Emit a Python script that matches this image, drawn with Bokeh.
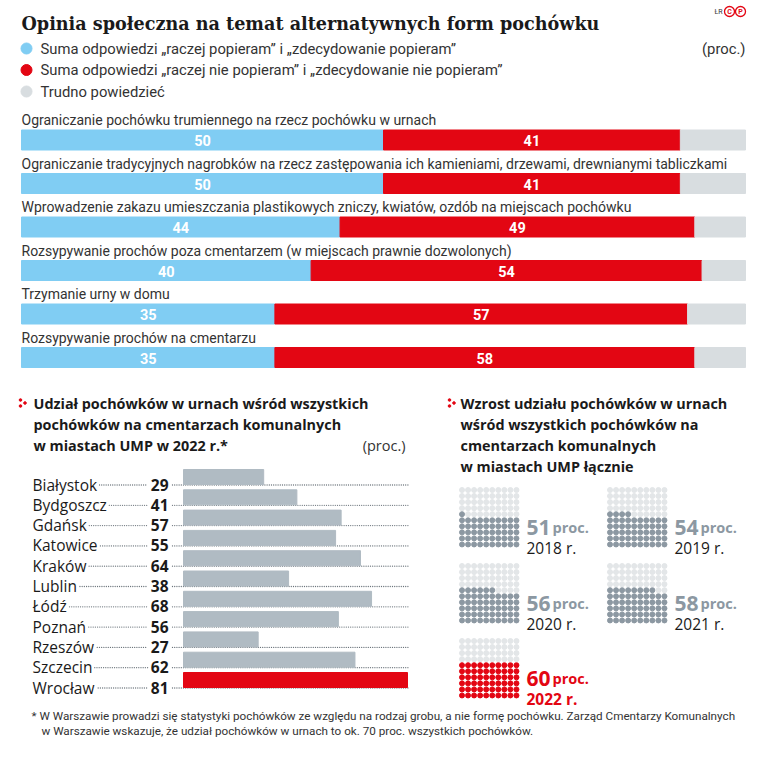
from bokeh.plotting import figure
from bokeh.models import Range1d
from bokeh.core.properties import value
from bokeh.embed import file_html
from bokeh.resources import INLINE

# ---------------- data ----------------
title = "Opinia społeczna na temat alternatywnych form pochówku"
legend_labels = [
    "Suma odpowiedzi „raczej popieram” i „zdecydowanie popieram”",
    "Suma odpowiedzi „raczej nie popieram” i „zdecydowanie nie popieram”",
    "Trudno powiedzieć",
]
questions = [
    "Ograniczanie pochówku trumiennego na rzecz pochówku w urnach",
    "Ograniczanie tradycyjnych nagrobków na rzecz zastępowania ich kamieniami, drzewami, drewnianymi tabliczkami",
    "Wprowadzenie zakazu umieszczania plastikowych zniczy, kwiatów, ozdób na miejscach pochówku",
    "Rozsypywanie prochów poza cmentarzem (w miejscach prawnie dozwolonych)",
    "Trzymanie urny w domu",
    "Rozsypywanie prochów na cmentarzu",
]
support = [50, 50, 44, 40, 35, 35]
oppose = [41, 41, 49, 54, 57, 58]
unsure = [9, 9, 7, 6, 8, 7]

left_title = [
    "Udział pochówków w urnach wśród wszystkich",
    "pochówków na cmentarzach komunalnych",
    "w miastach UMP w 2022 r.*",
]
cities = ["Białystok", "Bydgoszcz", "Gdańsk", "Katowice", "Kraków", "Lublin",
          "Łódź", "Poznań", "Rzeszów", "Szczecin", "Wrocław"]
city_share = [29, 41, 57, 55, 64, 38, 68, 56, 27, 62, 81]

right_title = [
    "Wzrost udziału pochówków w urnach",
    "wśród wszystkich pochówków na",
    "cmentarzach komunalnych",
    "w miastach UMP łącznie",
]
years = ["2018 r.", "2019 r.", "2020 r.", "2021 r.", "2022 r."]
year_share = [51, 54, 56, 58, 60]

footnote = [
    "* W Warszawie prowadzi się statystyki pochówków ze względu na rodzaj grobu, a nie formę pochówku. Zarząd Cmentarzy Komunalnych",
    "w Warszawie wskazuje, że udział pochówków w urnach to ok. 70 proc. wszystkich pochówków.",
]

# ---------------- style ----------------
BLUE = "#80cdf3"
RED = "#e30613"
LIGHT = "#d8dde0"
BARGREY = "#b0bbc3"
DOTGREY = "#8c98a2"
DOTLIGHT = "#e3e6e8"
DARK = "#1a1a1a"
TXT = "#333333"
SANS = value("Roboto")
SANS2 = value("Open Sans")
SERIF = value("DejaVu Serif")

# approximate Open Sans Regular advance widths (units per 2048 em), for dotted leaders
OS_W = {"a": 1139, "b": 1255, "c": 975, "d": 1255, "e": 1149, "g": 1122, "i": 518,
        "k": 1014, "l": 518, "n": 1257, "o": 1237, "r": 836, "s": 977, "t": 705,
        "u": 1257, "w": 1665, "y": 1026, "z": 930, "B": 1300, "G": 1466, "K": 1192,
        "L": 1069, "P": 1221, "R": 1274, "S": 1098, "W": 1886, "ł": 545, "ń": 1257,
        "ó": 1237, "ź": 930, "Ł": 1075}


def text_width(s, size):
    return sum(OS_W.get(ch, 1100) for ch in s) / 2048.0 * size


W, H = 755, 744
p = figure(width=W, height=H, x_range=Range1d(0, W), y_range=Range1d(H, 0),
           output_backend="svg", toolbar_location=None, min_border=0,
           x_axis_location=None, y_axis_location=None)
p.grid.visible = False
p.outline_line_color = None
p.background_fill_color = "white"

# scales for the two bar charts
BX0, BX1 = 21, 745
kb = (BX1 - BX0) / 100.0
CX0 = 183
kc = (407 - CX0) / 81.0
p.extra_x_ranges = {
    "pct": Range1d(-BX0 / kb, (W - BX0) / kb),
    "city": Range1d(-CX0 / kc, (W - CX0) / kc),
}

# ---------------- header ----------------
p.text(x=[21], y=[23], text=[title], text_font=SERIF, text_font_style="bold",
       text_font_size="17.6px", text_color=DARK, text_baseline="alphabetic")
p.text(x=[722], y=[11], text=["ŁR"], text_font=SANS, text_font_size="7px",
       text_color=TXT, text_baseline="middle", text_align="right")
p.scatter(x=[729, 740], y=[11, 11], size=10, marker="circle", fill_color=None,
          line_color=RED, line_width=1.3)
p.text(x=[729, 740], y=[11.5, 11.5], text=["C", "P"], text_font=SANS, text_font_style="bold",
       text_font_size="7px", text_color=RED, text_baseline="middle", text_align="center")

leg_y = [48, 69.5, 91]
p.scatter(x=[26] * 3, y=leg_y, size=11, marker="circle", color=[BLUE, RED, LIGHT])
p.text(x=[40] * 3, y=leg_y, text=legend_labels, text_font=SANS, text_font_size="14.8px",
       text_color=TXT, text_baseline="middle")
p.text(x=[745], y=[48], text=["(proc.)"], text_font=SANS, text_font_size="14.8px",
       text_color=TXT, text_baseline="middle", text_align="right")

# ---------------- stacked bars ----------------
n = len(questions)
yc = [139.5 + i * 43.5 for i in range(n)]
s_end = [s + o for s, o in zip(support, oppose)]
u_end = [e + u for e, u in zip(s_end, unsure)]
p.hbar(y=yc, left=[0] * n, right=support, height=20, color=BLUE, x_range_name="pct")
p.hbar(y=yc, left=support, right=s_end, height=20, color=RED, x_range_name="pct")
p.hbar(y=yc, left=s_end, right=u_end, height=20, color=LIGHT, x_range_name="pct")
p.text(x=[s / 2 for s in support], y=[y + 0.5 for y in yc], text=[str(v) for v in support],
       x_range_name="pct", text_font=SANS, text_font_style="bold", text_font_size="14.5px",
       text_color="white", text_align="center", text_baseline="middle")
p.text(x=[s + o / 2 for s, o in zip(support, oppose)], y=[y + 0.5 for y in yc],
       text=[str(v) for v in oppose], x_range_name="pct", text_font=SANS,
       text_font_style="bold", text_font_size="14.5px", text_color="white",
       text_align="center", text_baseline="middle")
p.text(x=[21] * n, y=[y - 20 for y in yc], text=questions, text_font=SANS,
       text_font_size="14px", text_color=TXT, text_baseline="middle")

# ---------------- left: cities ----------------
def red_icon(x, y):
    p.scatter(x=[x, x, x + 4.5], y=[y - 3, y + 3, y], size=2.6, marker="circle", color=RED)

red_icon(20, 402.5)
ty = [403, 424, 445]
p.text(x=[33] * 3, y=ty, text=left_title, text_font=SANS2, text_font_style="bold",
       text_font_size="14.4px", text_color=DARK, text_baseline="middle")
p.text(x=[405], y=[445], text=["(proc.)"], text_font=SANS2, text_font_size="14.5px",
       text_color=TXT, text_baseline="middle", text_align="right")

m = len(cities)
NAME_X, NAME_FS = 32, 15.5
VAL_X = 168
base = [484 + i * 20.3 for i in range(m)]
lead_start = [NAME_X + text_width(c, NAME_FS) + 3 for c in cities]
lead_end = [VAL_X - len(str(v)) * 0.572 * NAME_FS - 3 for v in city_share]

# dotted leaders as tiny dots
STEP = 2.2
dx, dy = [], []
for b, a0, a1 in zip(base, lead_start, lead_end):
    for (s0, s1) in ((a0, a1), (VAL_X + 4, 408)):
        x = s0
        while x <= s1:
            dx.append(x)
            dy.append(b + 0.5)
            x += STEP
p.scatter(x=dx, y=dy, size=1.3, marker="circle", color="#6b747b", line_color=None)

p.hbar(y=[b - 7.5 for b in base], left=[0] * m, right=city_share, height=15,
       color=[RED if c == "Wrocław" else BARGREY for c in cities], x_range_name="city")
p.text(x=[NAME_X] * m, y=base, text=cities, text_font=SANS2, text_font_size=f"{NAME_FS}px",
       text_color=DARK, text_baseline="alphabetic")
p.text(x=[VAL_X] * m, y=base, text=[str(v) for v in city_share], text_font=SANS2,
       text_font_style="bold", text_font_size=f"{NAME_FS}px", text_color=DARK,
       text_baseline="alphabetic", text_align="right")

# ---------------- right: dot grids ----------------
red_icon(449, 402.5)
rty = [403, 424, 445, 466]
p.text(x=[460] * 4, y=rty, text=right_title, text_font=SANS2, text_font_style="bold",
       text_font_size="14.4px", text_color=DARK, text_baseline="middle")

origins = [(459, 487), (607, 487), (459, 563), (607, 563), (459, 638)]
pitch = 6.05
xs, ys, cs = [], [], []
for k, ((gx, gy), v) in enumerate(zip(origins, year_share)):
    last = k == len(year_share) - 1
    on = RED if last else DOTGREY
    for idx in range(100):
        r, c = divmod(idx, 10)
        xs.append(gx + 2.5 + c * pitch)
        ys.append(gy + 2.5 + (9 - r) * pitch)
        cs.append(on if idx < v else DOTLIGHT)
p.scatter(x=xs, y=ys, size=5, marker="circle", color=cs)

for k, ((gx, gy), v, yr) in enumerate(zip(origins, year_share, years)):
    last = k == len(year_share) - 1
    col = RED if last else DOTGREY
    p.text(x=[gx + 67], y=[gy + 40], text=[str(v)], text_font=SANS2, text_font_style="bold",
           text_font_size="21px", text_color=col, text_baseline="alphabetic")
    p.text(x=[gx + 93], y=[gy + 40], text=["proc."], text_font=SANS2, text_font_style="bold",
           text_font_size="14.5px", text_color=col, text_baseline="alphabetic")
    p.text(x=[gx + 67], y=[gy + 60], text=[yr], text_font=SANS2,
           text_font_style="bold" if last else "normal", text_font_size="15.5px",
           text_color=RED if last else DARK, text_baseline="alphabetic")

# ---------------- footnote ----------------
p.text(x=[31, 41], y=[715, 730], text=footnote, text_font=SANS, text_font_size="11.7px",
       text_color=TXT, text_baseline="middle")

open("out.html", "w").write(file_html(p, INLINE))
